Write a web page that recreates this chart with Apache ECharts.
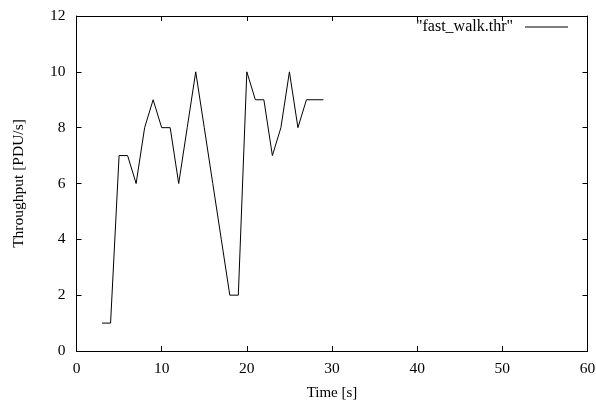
<!DOCTYPE html>
<html>
<head>
<meta charset="utf-8">
<script src="https://cdn.jsdelivr.net/npm/echarts@6/dist/echarts.min.js"></script>
<style>html,body{margin:0;padding:0;background:#fff}#c{width:596px;height:403px}</style>
</head>
<body>
<div id="c"></div>
<script>
var seriesName = '"fast_walk.thr"';
var timeS = [3,4,5,6,7,8,9,10,11,12,13,14,15,16,17,18,19,20,21,22,23,24,25,26,27,28,29];
var throughput = [1,1,7,7,6,8,9,8,8,6,8,10,8,6,4,2,2,10,9,9,7,8,10,8,9,9,9];
var xTicks = [0,10,20,30,40,50,60];
var yTicks = [0,2,4,6,8,10,12];

var font = 'Liberation Serif';
var chart = echarts.init(document.getElementById('c'), null, {renderer:'canvas'});
var data = timeS.map(function(t,i){return [t, throughput[i]];});
var axisLine = {show:true, onZero:false, lineStyle:{color:'#000', width:1}};
var tick = {show:true, inside:true, length:5, lineStyle:{color:'#000', width:1}};
chart.setOption({
  animation:false,
  backgroundColor:'#fff',
  grid:{left:76.5, right:8.5, top:16, bottom:52, containLabel:false, outerBoundsMode:'none'},
  legend:{
    data:[seriesName], right:28, top:19, align:'right', orient:'horizontal',
    itemWidth:43, itemHeight:1, icon:'rect', padding:0,
    textStyle:{fontFamily:font, fontSize:16, color:'#000', padding:[0,7,0,0]}
  },
  xAxis:[{
    type:'value', min:xTicks[0], max:xTicks[xTicks.length-1], interval:10,
    name:'Time [s]', nameLocation:'middle', nameGap:35,
    nameTextStyle:{fontFamily:font, fontSize:15, color:'#000'},
    axisLine:axisLine, axisTick:tick, splitLine:{show:false},
    axisLabel:{fontFamily:font, fontSize:15.5, color:'#000', margin:10}
  },{
    type:'value', position:'top', min:xTicks[0], max:xTicks[xTicks.length-1], interval:10,
    axisLine:axisLine, axisTick:tick, splitLine:{show:false}, axisLabel:{show:false}
  }],
  yAxis:[{
    type:'value', min:yTicks[0], max:yTicks[yTicks.length-1], interval:2,
    name:'Throughput [PDU/s]', nameLocation:'middle', nameGap:50,
    nameTextStyle:{fontFamily:font, fontSize:15.5, color:'#000'},
    axisLine:axisLine, axisTick:tick, splitLine:{show:false},
    axisLabel:{fontFamily:font, fontSize:15.5, color:'#000', margin:11}
  },{
    type:'value', position:'right', min:yTicks[0], max:yTicks[yTicks.length-1], interval:2,
    axisLine:axisLine, axisTick:tick, splitLine:{show:false}, axisLabel:{show:false}
  }],
  series:[{
    name:seriesName, type:'line', data:data, showSymbol:false, symbol:'none',
    xAxisIndex:0, yAxisIndex:0,
    lineStyle:{color:'#000', width:1}, itemStyle:{color:'#000'}
  }]
});
</script>
</body>
</html>
